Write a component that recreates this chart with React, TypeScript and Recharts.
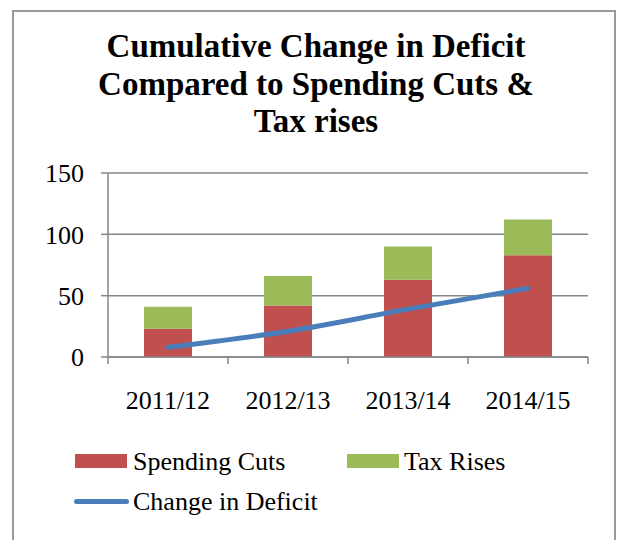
import React from 'react';
import { ComposedChart, Bar, Line, XAxis, YAxis, CartesianGrid } from 'recharts';

const categories = ['2011/12', '2012/13', '2013/14', '2014/15'];
const spendingCuts = [23, 42, 63, 83];
const taxRises = [18, 24, 27, 29];
const deficitChange = [8, 21, 39, 56];
const yTicks = [0, 50, 100, 150];
const titleLines = ['Cumulative Change in Deficit', 'Compared to Spending Cuts &', 'Tax rises'];

const data = categories.map((c, i) => ({
  name: c,
  spending: spendingCuts[i],
  tax: taxRises[i],
  deficit: deficitChange[i],
}));

const FONT = '"Liberation Serif", "Times New Roman", serif';
const GREY = '#868686';
const RED = '#c0504d';
const GREEN = '#9bbb59';
const BLUE = '#4a7ebb';

const XTick = (props: any) => {
  const { x, y, payload, index, visibleTicksCount, width } = props;
  const half = payload && payload.offset ? payload.offset : width / visibleTicksCount / 2;
  return (
    <g>
      <line x1={x - half} x2={x - half} y1={y} y2={y + 7} stroke={GREY} strokeWidth={1.5} />
      {index === visibleTicksCount - 1 && (
        <line x1={x + half} x2={x + half} y1={y} y2={y + 7} stroke={GREY} strokeWidth={1.5} />
      )}
      <text x={x} y={y + 52} textAnchor="middle" fontFamily={FONT} fontSize={26} fill="#000">
        {payload.value}
      </text>
    </g>
  );
};

export default function App() {
  return (
    <div style={{ position: 'absolute', left: 0, top: 0, width: 618, height: 540, overflow: 'hidden', background: '#fff' }}>
      <div style={{ position: 'absolute', left: 12, top: 10, width: 600, height: 600, border: '2px solid #999' }} />
      <div style={{ position: 'absolute', left: 0, top: 28, width: 632, textAlign: 'center', fontFamily: FONT, fontWeight: 'bold', fontSize: 33, lineHeight: '37.5px', color: '#000' }}>
        {titleLines.map((t) => (
          <div key={t}>{t}</div>
        ))}
      </div>
      <div style={{ position: 'absolute', left: 0, top: 0 }}>
        <ComposedChart width={618} height={540} data={data} margin={{ top: 173, right: 30, bottom: 153, left: 0 }} barCategoryGap="30%">
          <CartesianGrid horizontal vertical={false} stroke={GREY} strokeWidth={1.5} />
          <XAxis dataKey="name" height={30} axisLine={{ stroke: GREY, strokeWidth: 1.5 }} tickLine={false} tickSize={0} tickMargin={0} tick={<XTick />} interval={0} />
          <YAxis width={108} domain={[0, 150]} ticks={yTicks} axisLine={{ stroke: GREY, strokeWidth: 1.5 }} tickLine={{ stroke: GREY, strokeWidth: 1.5 }} tickSize={7} tickMargin={17} tick={{ fontFamily: FONT, fontSize: 26, fill: '#000' }} />
          <Bar dataKey="spending" stackId="a" fill={RED} isAnimationActive={false} />
          <Bar dataKey="tax" stackId="a" fill={GREEN} isAnimationActive={false} />
          <Line dataKey="deficit" type="monotone" stroke={BLUE} strokeWidth={5} strokeLinecap="round" dot={false} activeDot={false} isAnimationActive={false} />
        </ComposedChart>
      </div>
      <div style={{ position: 'absolute', left: 0, top: 0, fontFamily: FONT, fontSize: 26, color: '#000' }}>
        <div style={{ position: 'absolute', left: 75, top: 454, width: 52, height: 14, background: RED }} />
        <div style={{ position: 'absolute', left: 133, top: 447, whiteSpace: 'nowrap', lineHeight: '30px' }}>Spending Cuts</div>
        <div style={{ position: 'absolute', left: 347, top: 454, width: 52, height: 14, background: GREEN }} />
        <div style={{ position: 'absolute', left: 404, top: 447, whiteSpace: 'nowrap', lineHeight: '30px' }}>Tax Rises</div>
        <div style={{ position: 'absolute', left: 74, top: 499, width: 55, height: 5, borderRadius: 3, background: BLUE }} />
        <div style={{ position: 'absolute', left: 133, top: 487, whiteSpace: 'nowrap', lineHeight: '30px' }}>Change in Deficit</div>
      </div>
    </div>
  );
}
